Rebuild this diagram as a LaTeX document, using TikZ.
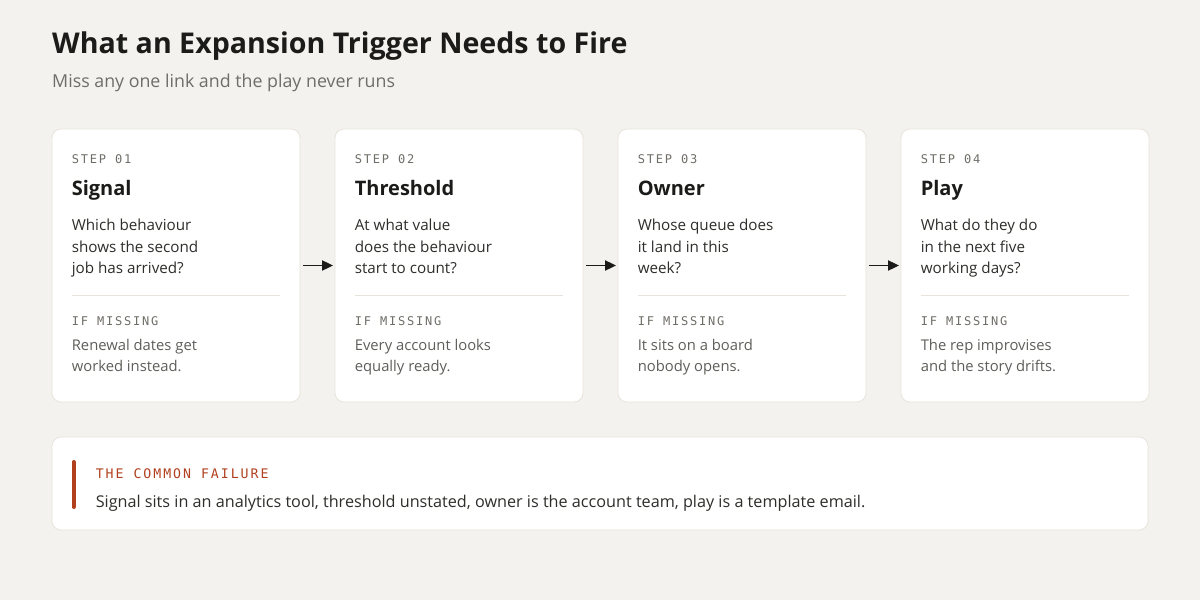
\documentclass[tikz,border=0pt]{standalone}
\usepackage{fontspec}
\setmainfont{Open Sans}
\newfontfamily\labelfont[LetterSpace=15]{DejaVu Sans Mono}
\usetikzlibrary{positioning,arrows.meta}

\definecolor{paper}{HTML}{F4F2EE}
\definecolor{cardline}{HTML}{E8E4DB}
\definecolor{ink}{HTML}{1B1B19}
\definecolor{bodyink}{HTML}{2E2E2B}
\definecolor{softink}{HTML}{5E5E5A}
\definecolor{greyink}{HTML}{6F6D67}
\definecolor{rust}{HTML}{B1401E}

\tikzset{
  card/.style={draw=cardline, fill=white, line width=0.8pt, rounded corners=9pt,
    minimum width=248pt, minimum height=273pt, inner sep=0pt},
  failbox/.style={draw=cardline, fill=white, line width=0.8pt, rounded corners=9pt,
    minimum width=1096pt, minimum height=93pt, inner sep=0pt},
  steplabel/.style={anchor=base west, inner sep=0pt, text=greyink,
    font=\labelfont\fontsize{12}{14}\selectfont},
  stephead/.style={anchor=base west, inner sep=0pt, text=ink,
    font=\bfseries\fontsize{20}{24}\selectfont},
  steptext/.style={anchor=base west, inner sep=0pt, align=left, text=bodyink,
    font=\fontsize{15.2}{21.5}\selectfont},
  misstext/.style={anchor=base west, inner sep=0pt, align=left, text=softink,
    font=\fontsize{14.8}{21}\selectfont},
  sepline/.style={draw=cardline, line width=0.8pt},
  flow/.style={-{Triangle[length=11pt,width=10pt]}, line width=1.8pt, ink,
    shorten <=3pt, shorten >=1.5pt}
}

\begin{document}
\begin{tikzpicture}[x=1pt,y=-1pt]
  %%Hintergrund
  \fill[paper] (0,0) rectangle (1200,600);
  \useasboundingbox (0,0) rectangle (1200,600);

  %%Titel
  \node[anchor=base west, inner sep=0pt, text=ink, font=\bfseries\fontsize{28.6}{34}\selectfont]
    (title) at (52,53) {What an Expansion Trigger Needs to Fire};
  \node[anchor=base west, inner sep=0pt, text=greyink, font=\fontsize{17.8}{21}\selectfont]
    (subtitle) at (52,87) {Miss any one link and the play never runs};

  %%Karten
  \foreach \i/\num/\head/\ask/\miss in {
      1/01/Signal/{Which behaviour\\shows the second\\job has arrived?}/{Renewal dates get\\worked instead.},
      2/02/Threshold/{At what value\\does the behaviour\\start to count?}/{Every account looks\\equally ready.},
      3/03/Owner/{Whose queue does\\it land in this\\week?}/{It sits on a board\\nobody opens.},
      4/04/Play/{What do they do\\in the next five\\working days?}/{The rep improvises\\and the story drifts.}} {
    \node[card] (card\i) at ({176+(\i-1)*283},265.5) {};
    \node[steplabel] (step\i) at ([shift={(20,34.5)}]card\i.north west) {STEP \num};
    \node[stephead] (head\i) at ([shift={(20,67)}]card\i.north west) {\head};
    \node[steptext] (ask\i) at ([shift={(20,145)}]card\i.north west) {\ask};
    \draw[sepline] ([shift={(20,167)}]card\i.north west) -- ([shift={(-20,167)}]card\i.north east);
    \node[steplabel] (iflabel\i) at ([shift={(20,196.5)}]card\i.north west) {IF MISSING};
    \node[misstext] (miss\i) at ([shift={(20,243)}]card\i.north west) {\miss};
  }

  %%Pfeile
  \foreach \a/\b in {1/2,2/3,3/4}
    \draw[flow] (card\a.east) -- (card\b.west);

  %%Haeufiger Fehler
  \node[failbox] (fail) at (600,483.5) {};
  \draw[rust, line width=4pt, line cap=round] (73.5,462) -- (73.5,507);
  \node[steplabel, text=rust, font=\labelfont\fontsize{13.2}{15}\selectfont]
    (failhead) at ([shift={(44,42)}]fail.north west) {THE COMMON FAILURE};
  \node[steptext, font=\fontsize{16.2}{20}\selectfont] (failtext) at ([shift={(44,71)}]fail.north west)
    {Signal sits in an analytics tool, threshold unstated, owner is the account team, play is a template email.};
\end{tikzpicture}
\end{document}
